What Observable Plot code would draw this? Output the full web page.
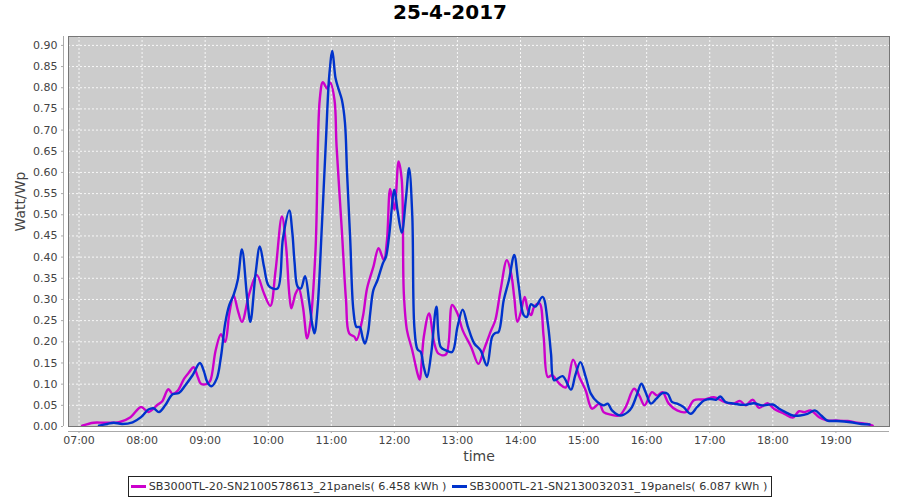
<!DOCTYPE html>
<html>
<head>
<meta charset="utf-8">
<script src="https://cdn.jsdelivr.net/npm/d3@7"></script>
<script src="https://cdn.jsdelivr.net/npm/@observablehq/plot@0.6"></script>
<style>
  html, body { margin: 0; padding: 0; background: #fff; width: 900px; height: 500px; overflow: hidden; }
  #title { height: 30px; line-height: 28px; text-align: center; font: bold 20px "DejaVu Sans", sans-serif; color: #000; }
  #chart svg { display: block; }
  #legend { height: 30px; display: flex; justify-content: center; align-items: flex-start; }
  #legend .box { margin-top: 6px; height: 19px; border: 1px solid #222; display: flex; align-items: center; padding: 0 4px 0 2px; font: 11.2px "DejaVu Sans", sans-serif; color: #333; white-space: nowrap; }
  #legend .sw { display: inline-block; width: 15px; height: 3px; margin-right: 3px; }
  #legend .item { display: flex; align-items: center; margin-right: 5px; }
  #legend .item:last-child { margin-right: 0; }
</style>
</head>
<body>
<div id="title"></div>
<div id="chart"></div>
<div id="legend"></div>
<script>
const chartTitle = "25-4-2017";
const yLabel = "Watt/Wp";
const xLabel = "time";
const seriesNames = [
  "SB3000TL-20-SN2100578613_21panels( 6.458 kWh )",
  "SB3000TL-21-SN2130032031_19panels( 6.087 kWh )"
];
const seriesColors = ["#cc00cc", "#0033cc"];
const yTicks = [0.00, 0.05, 0.10, 0.15, 0.20, 0.25, 0.30, 0.35, 0.40, 0.45, 0.50, 0.55, 0.60, 0.65, 0.70, 0.75, 0.80, 0.85, 0.90];
const xTicks = ["07:00","08:00","09:00","10:00","11:00","12:00","13:00","14:00","15:00","16:00","17:00","18:00","19:00"];
const xDomain = ["06:50", "19:51"];
const yDomain = [0, 0.921];

// Series 1 (magenta)
const times1 = ["07:03","07:14","07:24","07:38","07:49","07:59","08:06","08:15","08:19","08:25","08:29","08:34","08:40","08:45","08:49","08:53","08:56","09:02","09:05","09:10","09:15","09:19","09:23","09:27","09:31","09:35","09:42","09:49","09:56","10:02","10:07","10:13","10:17","10:20","10:22","10:26","10:29","10:33","10:37","10:40","10:45","10:49","10:52","10:56","10:59","11:03","11:05","11:10","11:14","11:17","11:22","11:24","11:30","11:34","11:40","11:45","11:50","11:53","11:56","12:00","12:04","12:07","12:09","12:12","12:17","12:22","12:24","12:28","12:33","12:38","12:42","12:49","12:55","13:00","13:05","13:13","13:20","13:25","13:32","13:36","13:41","13:47","13:51","13:54","13:57","14:00","14:04","14:07","14:10","14:13","14:18","14:22","14:26","14:30","14:37","14:43","14:50","14:56","15:02","15:08","15:15","15:19","15:26","15:34","15:40","15:48","15:53","15:58","16:05","16:10","16:15","16:21","16:29","16:37","16:45","16:55","17:04","17:14","17:22","17:29","17:34","17:41","17:47","17:55","18:01","18:11","18:19","18:25","18:30","18:36","18:44","18:52","19:00","19:11","19:20","19:30","19:35"];
const values1 = [0.002,0.009,0.009,0.010,0.022,0.046,0.034,0.052,0.059,0.088,0.077,0.085,0.113,0.129,0.140,0.117,0.101,0.101,0.109,0.180,0.218,0.200,0.267,0.310,0.275,0.247,0.314,0.358,0.314,0.285,0.369,0.496,0.425,0.314,0.279,0.314,0.326,0.283,0.208,0.243,0.417,0.772,0.813,0.798,0.812,0.772,0.662,0.464,0.298,0.220,0.212,0.204,0.259,0.326,0.377,0.421,0.393,0.441,0.561,0.512,0.626,0.583,0.314,0.227,0.180,0.125,0.111,0.212,0.267,0.196,0.172,0.170,0.287,0.267,0.227,0.188,0.148,0.180,0.227,0.251,0.322,0.393,0.362,0.306,0.247,0.267,0.306,0.275,0.263,0.283,0.291,0.212,0.117,0.121,0.101,0.092,0.158,0.117,0.085,0.042,0.054,0.034,0.028,0.026,0.046,0.089,0.073,0.050,0.081,0.073,0.081,0.054,0.038,0.034,0.062,0.064,0.069,0.058,0.054,0.060,0.050,0.063,0.044,0.055,0.042,0.030,0.021,0.036,0.034,0.038,0.022,0.014,0.014,0.013,0.009,0.006,0.002];

// Series 2 (blue)
const times2 = ["07:19","07:27","07:33","07:41","07:51","07:59","08:06","08:11","08:16","08:22","08:29","08:35","08:41","08:48","08:55","08:59","09:02","09:06","09:11","09:15","09:19","09:23","09:27","09:31","09:35","09:40","09:43","09:48","09:52","09:56","10:00","10:04","10:09","10:14","10:20","10:23","10:25","10:28","10:31","10:35","10:39","10:42","10:44","10:47","10:51","10:55","10:58","11:01","11:04","11:07","11:10","11:13","11:15","11:18","11:21","11:24","11:27","11:30","11:32","11:35","11:37","11:40","11:44","11:49","11:52","11:55","12:00","12:03","12:07","12:11","12:14","12:17","12:19","12:22","12:25","12:28","12:31","12:35","12:40","12:44","12:49","12:55","13:00","13:05","13:10","13:16","13:22","13:28","13:33","13:36","13:39","13:44","13:49","13:54","13:58","14:03","14:06","14:10","14:14","14:21","14:26","14:29","14:32","14:40","14:48","14:52","14:57","15:02","15:07","15:13","15:19","15:23","15:27","15:35","15:42","15:46","15:51","15:55","15:59","16:04","16:09","16:15","16:20","16:24","16:29","16:35","16:42","16:48","16:55","17:01","17:06","17:10","17:15","17:23","17:33","17:42","17:50","18:00","18:06","18:12","18:19","18:26","18:33","18:40","18:46","18:52","19:01","19:14","19:24","19:32"];
const values2 = [0.002,0.006,0.009,0.006,0.010,0.022,0.040,0.043,0.034,0.050,0.076,0.079,0.097,0.121,0.150,0.129,0.105,0.095,0.113,0.164,0.243,0.287,0.310,0.346,0.418,0.302,0.247,0.362,0.425,0.377,0.334,0.326,0.326,0.444,0.510,0.456,0.389,0.330,0.326,0.355,0.294,0.239,0.220,0.283,0.472,0.681,0.827,0.887,0.823,0.796,0.772,0.717,0.598,0.441,0.275,0.235,0.235,0.208,0.196,0.223,0.267,0.322,0.346,0.385,0.401,0.450,0.559,0.510,0.458,0.539,0.610,0.500,0.235,0.182,0.176,0.140,0.117,0.172,0.283,0.188,0.180,0.176,0.235,0.276,0.235,0.196,0.180,0.144,0.212,0.221,0.223,0.298,0.346,0.405,0.338,0.263,0.259,0.289,0.283,0.306,0.243,0.172,0.109,0.119,0.087,0.120,0.152,0.117,0.077,0.058,0.050,0.054,0.038,0.026,0.034,0.046,0.077,0.101,0.081,0.054,0.065,0.079,0.077,0.058,0.054,0.046,0.030,0.046,0.062,0.065,0.063,0.071,0.058,0.054,0.051,0.055,0.050,0.052,0.042,0.034,0.026,0.026,0.030,0.038,0.026,0.014,0.013,0.010,0.006,0.005];

const parseT = s => { const [h, m] = s.split(":").map(Number); return new Date(Date.UTC(2017, 3, 25, h, m)); };

const data = [
  ...times1.map((t, i) => ({time: parseT(t), value: values1[i], series: seriesNames[0]})),
  ...times2.map((t, i) => ({time: parseT(t), value: values2[i], series: seriesNames[1]}))
];
const xTickDates = xTicks.map(parseT);
const xd = xDomain.map(parseT);

document.getElementById("title").textContent = chartTitle;

const chart = Plot.plot({
  width: 900,
  height: 440,
  marginTop: 6,
  marginBottom: 44,
  marginLeft: 68,
  marginRight: 11,
  style: {background: "transparent", fontFamily: "DejaVu Sans, sans-serif", fontSize: "11px", color: "#444"},
  x: {type: "utc", domain: xd},
  y: {domain: yDomain},
  color: {domain: seriesNames, range: seriesColors},
  marks: [
    Plot.frame({fill: "#cccccc", stroke: null}),
    Plot.gridY(yTicks, {stroke: "#ffffff", strokeOpacity: 0.85, strokeDasharray: "2,2", strokeWidth: 1}),
    Plot.gridX(xTickDates, {stroke: "#ffffff", strokeOpacity: 0.85, strokeDasharray: "2,2", strokeWidth: 1}),
    Plot.line(data, {x: "time", y: "value", z: "series", stroke: "series", strokeWidth: 2.4, curve: "catmull-rom"}),
    Plot.frame({stroke: "#777777", strokeWidth: 1}),
    Plot.ruleX([xd[0]], {dx: -5, stroke: "#aaaaaa"}),
    Plot.ruleY([0], {dy: 5, stroke: "#aaaaaa"}),
    Plot.axisY(yTicks, {tickFormat: d3.format(".2f"), tickSize: 2, tickPadding: 4, dx: -5, label: null, stroke: "#aaaaaa", fill: "#444"}),
    Plot.axisX(xTickDates, {tickFormat: d3.utcFormat("%H:%M"), tickSize: 2, tickPadding: 3, dy: 5, label: null, stroke: "#aaaaaa", fill: "#444"}),
    Plot.text([yLabel], {frameAnchor: "left", dx: -48, rotate: -90, fontSize: 14, fill: "#444"}),
    Plot.text([xLabel], {frameAnchor: "bottom", dy: 34, fontSize: 14, fill: "#444"})
  ]
});
document.getElementById("chart").appendChild(chart);

const legend = document.getElementById("legend");
const box = document.createElement("div");
box.className = "box";
seriesNames.forEach((name, i) => {
  const item = document.createElement("div");
  item.className = "item";
  const sw = document.createElement("span");
  sw.className = "sw";
  sw.style.background = seriesColors[i];
  const tx = document.createElement("span");
  tx.textContent = name;
  item.appendChild(sw);
  item.appendChild(tx);
  box.appendChild(item);
});
legend.appendChild(box);
</script>
</body>
</html>
